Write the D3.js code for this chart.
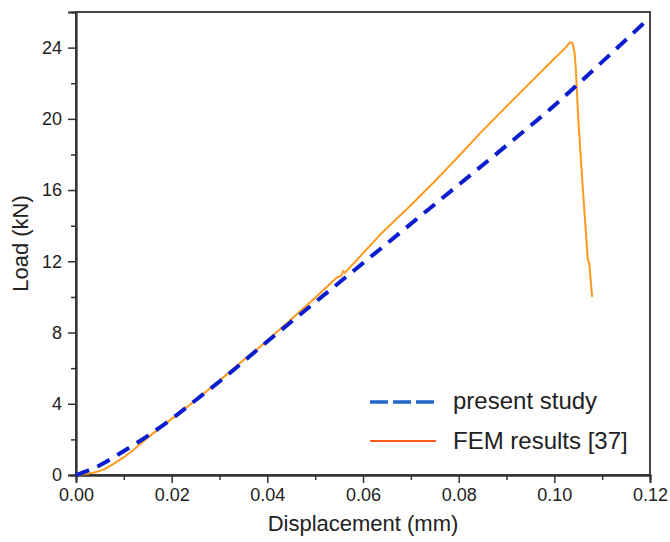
<!DOCTYPE html>
<html>
<head>
<meta charset="utf-8">
<script src="https://cdn.jsdelivr.net/npm/d3@7"></script>
<style>
  html, body { margin: 0; padding: 0; background: #fff; }
  svg { display: block; font-family: "Liberation Sans", Arial, sans-serif; }
</style>
</head>
<body>
<svg id="chart" width="670" height="542"></svg>
<script>
// ---- data ----
const presentDisp = [0, 0.005, 0.01, 0.015, 0.02, 0.025, 0.03, 0.04, 0.05, 0.06, 0.07, 0.08, 0.09, 0.10, 0.11, 0.12];
const presentLoad = [0, 0.55, 1.35, 2.2, 3.15, 4.2, 5.25, 7.5, 9.7, 11.9, 14.1, 16.3, 18.5, 20.75, 23.2, 25.7];

const femDisp = [0, 0.002, 0.004, 0.006, 0.008, 0.010, 0.012, 0.015, 0.02, 0.025, 0.03, 0.035, 0.0385, 0.04, 0.045, 0.05, 0.0546, 0.0555, 0.0558, 0.0562, 0.06, 0.0636, 0.07, 0.075, 0.08, 0.0845, 0.09, 0.095, 0.0997, 0.102, 0.1033, 0.1038, 0.1042, 0.1045, 0.105, 0.106, 0.107, 0.1073, 0.1079];
const femLoad = [0, 0.05, 0.15, 0.33, 0.65, 1.0, 1.4, 2.1, 3.15, 4.2, 5.3, 6.45, 7.2, 7.55, 8.75, 9.95, 11.1, 11.2, 11.45, 11.35, 12.45, 13.5, 15.15, 16.5, 17.9, 19.2, 20.7, 22.05, 23.3, 23.9, 24.3, 24.25, 23.8, 22.8, 20.0, 15.9, 12.1, 11.9, 10.0];

const xTickValues = [0, 0.02, 0.04, 0.06, 0.08, 0.10, 0.12];
const xMinorValues = [0.01, 0.03, 0.05, 0.07, 0.09, 0.11];
const yTickValues = [0, 4, 8, 12, 16, 20, 24];
const yMinorValues = [2, 6, 10, 14, 18, 22];

const seriesNames = ["present study", "FEM results [37]"];

// ---- layout ----
const W = 670, H = 542;
const margin = { left: 76, right: 20, top: 12, bottom: 67 };
const svg = d3.select("#chart");

const x = d3.scaleLinear().domain([0, 0.12]).range([margin.left, W - margin.right]);
const y = d3.scaleLinear().domain([0, 26]).range([H - margin.bottom, margin.top]);

const axisColor = "#333";
const textColor = "#222";

// frame
svg.append("rect")
  .attr("x", x(0)).attr("y", y(26))
  .attr("width", x(0.12) - x(0)).attr("height", y(0) - y(26))
  .attr("fill", "none").attr("stroke", axisColor).attr("stroke-width", 1.8);

// x axis major
const gx = svg.append("g").attr("transform", `translate(0,${y(0)})`)
  .call(d3.axisBottom(x).tickValues(xTickValues).tickFormat(d3.format(".2f")).tickSize(8).tickPadding(5));
const gxm = svg.append("g").attr("transform", `translate(0,${y(0)})`)
  .call(d3.axisBottom(x).tickValues(xMinorValues).tickFormat("").tickSize(5));
// y axis
const gy = svg.append("g").attr("transform", `translate(${x(0)},0)`)
  .call(d3.axisLeft(y).tickValues(yTickValues).tickFormat(d3.format("d")).tickSize(8).tickPadding(6));
const gym = svg.append("g").attr("transform", `translate(${x(0)},0)`)
  .call(d3.axisLeft(y).tickValues(yMinorValues).tickFormat("").tickSize(5));

[gx, gxm, gy, gym].forEach(g => {
  g.select(".domain").attr("stroke", axisColor).attr("stroke-width", 1.8);
  g.selectAll(".tick line").attr("stroke", axisColor).attr("stroke-width", 1.5);
  g.selectAll(".tick text").attr("fill", textColor).style("font-size", "18px")
    .style("font-family", "'Liberation Sans', Arial, sans-serif");
});

// axis titles
svg.append("text")
  .attr("x", (x(0) + x(0.12)) / 2).attr("y", 531)
  .attr("text-anchor", "middle").attr("fill", textColor)
  .style("font-size", "22px").text("Displacement (mm)");
svg.append("text")
  .attr("transform", `translate(28,${(y(0) + y(26)) / 2}) rotate(-90)`)
  .attr("text-anchor", "middle").attr("fill", textColor)
  .style("font-size", "22px").text("Load (kN)");

// lines
const femData = femDisp.map((d, i) => [d, femLoad[i]]);
const presentData = presentDisp.map((d, i) => [d, presentLoad[i]]);

svg.append("path").datum(femData)
  .attr("d", d3.line().x(d => x(d[0])).y(d => y(d[1])))
  .attr("fill", "none").attr("stroke", "#ff9a1e").attr("stroke-width", 2)
  .attr("stroke-linejoin", "round");

svg.append("path").datum(presentData)
  .attr("d", d3.line().x(d => x(d[0])).y(d => y(d[1])).curve(d3.curveMonotoneX))
  .attr("fill", "none").attr("stroke", "#0a1ecf").attr("stroke-width", 4)
  .attr("stroke-dasharray", "14,9");

// legend
const lg = svg.append("g");
lg.append("line").attr("x1", 370).attr("x2", 436).attr("y1", 402).attr("y2", 402)
  .attr("stroke", "#2266cc").attr("stroke-width", 3.5).attr("stroke-dasharray", "18,5");
lg.append("text").attr("x", 453).attr("y", 409).attr("fill", textColor)
  .style("font-size", "24px").text(seriesNames[0]);
lg.append("line").attr("x1", 370).attr("x2", 436).attr("y1", 441).attr("y2", 441)
  .attr("stroke", "#ff5a1e").attr("stroke-width", 2);
lg.append("text").attr("x", 453).attr("y", 449).attr("fill", textColor)
  .style("font-size", "24px").text(seriesNames[1]);
</script>
</body>
</html>
